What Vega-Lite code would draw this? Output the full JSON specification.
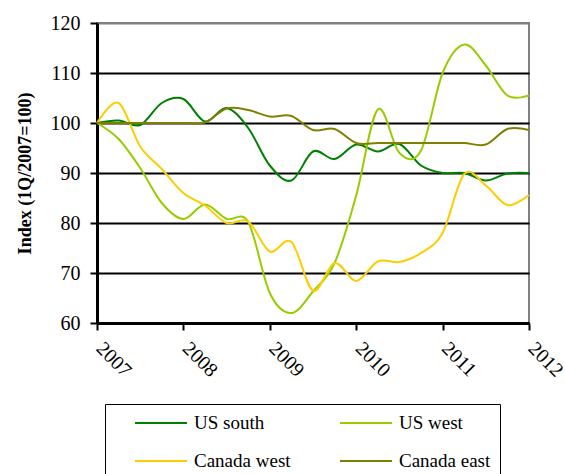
{
  "$schema": "https://vega.github.io/schema/vega-lite/v6.json",
  "width": 432,
  "height": 300,
  "autosize": "none",
  "padding": {"left": 97, "top": 23, "right": 36, "bottom": 151},
  "background": "white",
  "config": {
    "font": "'Liberation Serif', 'DejaVu Serif', serif",
    "view": {"stroke": "#808080", "strokeWidth": 2}
  },
  "data": {
    "values": [
      {"t": 2007.00, "s": "US south", "v": 100},
      {"t": 2007.25, "s": "US south", "v": 100.5},
      {"t": 2007.50, "s": "US south", "v": 99.6},
      {"t": 2007.75, "s": "US south", "v": 104},
      {"t": 2008.00, "s": "US south", "v": 104.8},
      {"t": 2008.25, "s": "US south", "v": 100.3},
      {"t": 2008.50, "s": "US south", "v": 103},
      {"t": 2008.75, "s": "US south", "v": 99},
      {"t": 2009.00, "s": "US south", "v": 91.5},
      {"t": 2009.25, "s": "US south", "v": 88.5},
      {"t": 2009.50, "s": "US south", "v": 94.3},
      {"t": 2009.75, "s": "US south", "v": 92.8},
      {"t": 2010.00, "s": "US south", "v": 95.7},
      {"t": 2010.25, "s": "US south", "v": 94.3},
      {"t": 2010.50, "s": "US south", "v": 95.8},
      {"t": 2010.75, "s": "US south", "v": 91.5},
      {"t": 2011.00, "s": "US south", "v": 90},
      {"t": 2011.25, "s": "US south", "v": 90},
      {"t": 2011.50, "s": "US south", "v": 88.5},
      {"t": 2011.75, "s": "US south", "v": 89.9},
      {"t": 2012.00, "s": "US south", "v": 90},

      {"t": 2007.00, "s": "US west", "v": 100},
      {"t": 2007.25, "s": "US west", "v": 96.8},
      {"t": 2007.50, "s": "US west", "v": 91},
      {"t": 2007.75, "s": "US west", "v": 84},
      {"t": 2008.00, "s": "US west", "v": 80.8},
      {"t": 2008.25, "s": "US west", "v": 83.7},
      {"t": 2008.50, "s": "US west", "v": 80.8},
      {"t": 2008.75, "s": "US west", "v": 80.2},
      {"t": 2009.00, "s": "US west", "v": 66},
      {"t": 2009.25, "s": "US west", "v": 62},
      {"t": 2009.50, "s": "US west", "v": 66.3},
      {"t": 2009.75, "s": "US west", "v": 72},
      {"t": 2010.00, "s": "US west", "v": 85.5},
      {"t": 2010.25, "s": "US west", "v": 102.7},
      {"t": 2010.50, "s": "US west", "v": 94},
      {"t": 2010.75, "s": "US west", "v": 94.5},
      {"t": 2011.00, "s": "US west", "v": 110},
      {"t": 2011.25, "s": "US west", "v": 115.7},
      {"t": 2011.50, "s": "US west", "v": 111.5},
      {"t": 2011.75, "s": "US west", "v": 105.5},
      {"t": 2012.00, "s": "US west", "v": 105.5},

      {"t": 2007.00, "s": "Canada west", "v": 100},
      {"t": 2007.25, "s": "Canada west", "v": 104},
      {"t": 2007.50, "s": "Canada west", "v": 95.3},
      {"t": 2007.75, "s": "Canada west", "v": 90.8},
      {"t": 2008.00, "s": "Canada west", "v": 86},
      {"t": 2008.25, "s": "Canada west", "v": 83.5},
      {"t": 2008.50, "s": "Canada west", "v": 80},
      {"t": 2008.75, "s": "Canada west", "v": 80.3},
      {"t": 2009.00, "s": "Canada west", "v": 74.3},
      {"t": 2009.25, "s": "Canada west", "v": 76.2},
      {"t": 2009.50, "s": "Canada west", "v": 66.5},
      {"t": 2009.75, "s": "Canada west", "v": 72},
      {"t": 2010.00, "s": "Canada west", "v": 68.4},
      {"t": 2010.25, "s": "Canada west", "v": 72.3},
      {"t": 2010.50, "s": "Canada west", "v": 72.2},
      {"t": 2010.75, "s": "Canada west", "v": 74},
      {"t": 2011.00, "s": "Canada west", "v": 78},
      {"t": 2011.25, "s": "Canada west", "v": 89.8},
      {"t": 2011.50, "s": "Canada west", "v": 87.5},
      {"t": 2011.75, "s": "Canada west", "v": 83.6},
      {"t": 2012.00, "s": "Canada west", "v": 85.6},

      {"t": 2007.00, "s": "Canada east", "v": 100},
      {"t": 2007.25, "s": "Canada east", "v": 100},
      {"t": 2007.50, "s": "Canada east", "v": 100},
      {"t": 2007.75, "s": "Canada east", "v": 100},
      {"t": 2008.00, "s": "Canada east", "v": 100},
      {"t": 2008.25, "s": "Canada east", "v": 100.1},
      {"t": 2008.50, "s": "Canada east", "v": 102.9},
      {"t": 2008.75, "s": "Canada east", "v": 102.6},
      {"t": 2009.00, "s": "Canada east", "v": 101.3},
      {"t": 2009.25, "s": "Canada east", "v": 101.4},
      {"t": 2009.50, "s": "Canada east", "v": 98.6},
      {"t": 2009.75, "s": "Canada east", "v": 98.8},
      {"t": 2010.00, "s": "Canada east", "v": 96},
      {"t": 2010.25, "s": "Canada east", "v": 96},
      {"t": 2010.50, "s": "Canada east", "v": 96},
      {"t": 2010.75, "s": "Canada east", "v": 96},
      {"t": 2011.00, "s": "Canada east", "v": 96},
      {"t": 2011.25, "s": "Canada east", "v": 96},
      {"t": 2011.50, "s": "Canada east", "v": 95.7},
      {"t": 2011.75, "s": "Canada east", "v": 98.8},
      {"t": 2012.00, "s": "Canada east", "v": 98.6}
    ]
  },
  "mark": {"type": "line", "interpolate": "cardinal", "tension": 0, "strokeWidth": 2},
  "encoding": {
    "x": {
      "field": "t",
      "type": "quantitative",
      "scale": {"domain": [2007, 2012], "nice": false, "zero": false},
      "axis": {
        "title": null,
        "values": [2007, 2008, 2009, 2010, 2011, 2012],
        "format": "d",
        "grid": false,
        "domainColor": "black",
        "domainWidth": 3,
        "tickColor": "black",
        "tickWidth": 2,
        "tickSize": 7,
        "labelAngle": 45,
        "labelAlign": "left",
        "labelBaseline": "top",
        "labelPadding": 8,
        "labelOffset": 9,
        "labelFont": "'Liberation Serif', 'DejaVu Serif', serif",
        "labelFontSize": 20,
        "labelColor": "black"
      }
    },
    "y": {
      "field": "v",
      "type": "quantitative",
      "scale": {"domain": [60, 120], "nice": false, "zero": false},
      "axis": {
        "title": "Index (1Q/2007=100)",
        "titleFont": "'Liberation Serif', 'DejaVu Serif', serif",
        "titleFontSize": 18,
        "titleFontWeight": "bold",
        "titleColor": "black",
        "titlePadding": 16,
        "values": [60, 70, 80, 90, 100, 110, 120],
        "grid": true,
        "gridColor": {"condition": {"test": "datum.value === 120", "value": "#808080"}, "value": "black"},
        "gridWidth": 2,
        "gridOpacity": 1,
        "domainColor": "black",
        "domainWidth": 3,
        "tickColor": "black",
        "tickWidth": 2,
        "tickSize": 7,
        "labelPadding": 10,
        "labelFont": "'Liberation Serif', 'DejaVu Serif', serif",
        "labelFontSize": 20,
        "labelColor": "black"
      }
    },
    "color": {
      "field": "s",
      "type": "nominal",
      "sort": ["US south", "US west", "Canada west", "Canada east"],
      "scale": {
        "domain": ["US south", "US west", "Canada west", "Canada east"],
        "range": ["#008000", "#99CC00", "#FFCC00", "#808000"]
      },
      "legend": {
        "title": null,
        "orient": "none",
        "legendX": 8,
        "legendY": 381,
        "columns": 2,
        "direction": "horizontal",
        "symbolType": "stroke",
        "symbolSize": 2700,
        "symbolStrokeWidth": 2,
        "symbolOffset": 20,
        "clipHeight": 20,
        "labelOffset": 6,
        "labelFont": "'Liberation Serif', 'DejaVu Serif', serif",
        "labelFontSize": 19,
        "labelColor": "black",
        "rowPadding": 18,
        "columnPadding": 28,
        "strokeColor": "black",
        "padding": 9
      }
    }
  }
}
